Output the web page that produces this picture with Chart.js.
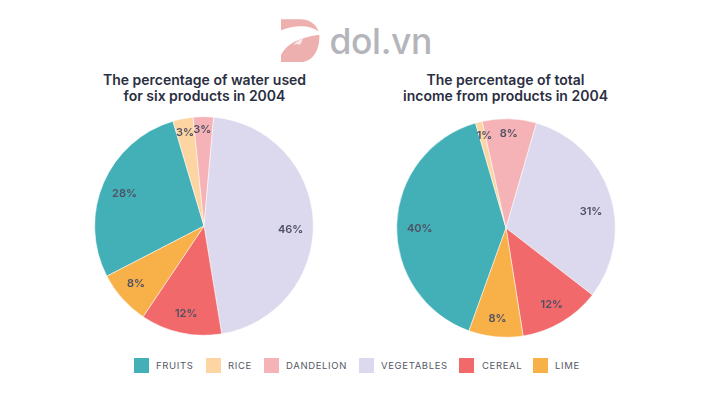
<!DOCTYPE html>
<html>
<head>
<meta charset="utf-8">
<title>Water and income by product</title>
<script src="https://cdn.jsdelivr.net/npm/chart.js@4"></script>
<style>
    html, body { margin: 0; padding: 0; background: #fff; }
    body { position: relative; width: 712px; height: 400px; overflow: hidden; font-family: Inter, sans-serif; }
    canvas { position: absolute; }
    #waterChart { left: 84.3px; top: 106px; }
    #incomeChart { left: 385.8px; top: 108px; }
    .title { position: absolute; top: 71.5px; width: 280px; text-align: center; font-size: 14px; line-height: 16.5px; font-weight: 600; color: #2b2f42; }
    #waterTitle { left: 64.5px; }
    #incomeTitle { left: 365.5px; }
    #logo { position: absolute; left: 0; top: 0; }
    #brand { position: absolute; left: 329.5px; top: 19px; font-size: 35.5px; line-height: 46px; font-weight: 500; color: #b4b5ba; letter-spacing: -0.4px; }
    #legend { position: absolute; left: 0; top: 358px; width: 712px; height: 16px; }
    .item { position: absolute; top: 0; font-size: 9.5px; line-height: 16px; letter-spacing: 0.65px; color: #555866; white-space: nowrap; }
    .swatch { position: absolute; top: 0; width: 15px; height: 15px; }
</style>
</head>
<body>
<svg id="logo" width="712" height="100">
    <path d="M281 19.3 H300 C309 19.3 316 24 318.5 31.3 C309 24.5 295 25 281 30.3 Z" fill="#eeb0ae"/>
    <path d="M319.3 34.7 C320 48 314 62 300 62 H281 V55 C286 44 298 38 319.3 34.7 Z" fill="#eeb0ae"/>
    <path d="M293 45 C296 42 299 40 303 38.7 C302 41 301 43 300 45 C298 43.5 296 44 293 45 Z" fill="#fbeaea"/>
</svg>
<div id="brand">dol.vn</div>
<div id="waterTitle" class="title">The percentage of water used<br>for six products in 2004</div>
<div id="incomeTitle" class="title">The percentage of total<br>income from products in 2004</div>
<canvas id="waterChart" width="240" height="240"></canvas>
<canvas id="incomeChart" width="240" height="240"></canvas>
<div id="legend"></div>
<script>
const categories = ['FRUITS', 'RICE', 'DANDELION', 'VEGETABLES', 'CEREAL', 'LIME'];
const waterValues = [28, 3, 3, 46, 12, 8];
const incomeValues = [40, 1, 8, 31, 12, 8];
const sliceColors = ['#43b0b8', '#fcd5a2', '#f6b3b7', '#dcd9ee', '#f2696c', '#f8b049'];
const legendSwatchX = [134, 206, 264, 359, 459, 533];
const legendTextX = [156, 228, 286, 381, 482, 555];
// small shifts of the percent text away from the slice's middle line
const waterLabelNudge = [[1, 2], [-1, -1.5], [-1.3, -2], [-0.8, 6.8], [0.8, 2.5], [2.3, -5]];
const incomeLabelNudge = [[1.1, 3.7], [1.9, -1.2], [-0.1, -0.7], [1.9, 10.7], [1.3, 1.6], [0.3, -3.3]];

function percentLabels(nudge) {
    return {
        id: 'percentLabels',
        afterDatasetsDraw(chart) {
            const ctx = chart.ctx;
            const values = chart.data.datasets[0].data;
            ctx.save();
            ctx.font = '600 11px Inter, sans-serif';
            ctx.fillStyle = '#4f5163';
            ctx.textAlign = 'center';
            ctx.textBaseline = 'middle';
            chart.getDatasetMeta(0).data.forEach((arc, i) => {
                const p = arc.getProps(['x', 'y', 'startAngle', 'endAngle', 'outerRadius'], true);
                const mid = (p.startAngle + p.endAngle) / 2;
                // small slices sit closer to the rim
                const r = p.outerRadius * (values[i] < 10 ? 0.86 : 0.8);
                ctx.fillText(values[i] + '%', p.x + Math.cos(mid) * r + nudge[i][0], p.y + Math.sin(mid) * r + nudge[i][1]);
            });
            ctx.restore();
        }
    };
}

function drawPie(id, values, rotation, nudge) {
    new Chart(document.getElementById(id), {
        type: 'pie',
        data: {
            labels: categories,
            datasets: [{
                data: values,
                backgroundColor: sliceColors,
                borderColor: '#ffffff',
                borderWidth: 0.5
            }]
        },
        options: {
            responsive: false,
            animation: false,
            radius: 109.3,
            rotation: rotation,
            plugins: { legend: { display: false }, tooltip: { enabled: false } }
        },
        plugins: [percentLabels(nudge)]
    });
}

drawPie('waterChart', waterValues, 242.7, waterLabelNudge);
drawPie('incomeChart', incomeValues, 199.8, incomeLabelNudge);

const legend = document.getElementById('legend');
categories.forEach((name, i) => {
    const swatch = document.createElement('div');
    swatch.className = 'swatch';
    swatch.style.left = legendSwatchX[i] + 'px';
    swatch.style.background = sliceColors[i];
    legend.appendChild(swatch);

    const item = document.createElement('div');
    item.className = 'item';
    item.style.left = legendTextX[i] + 'px';
    item.textContent = name;
    legend.appendChild(item);
});
</script>
</body>
</html>
